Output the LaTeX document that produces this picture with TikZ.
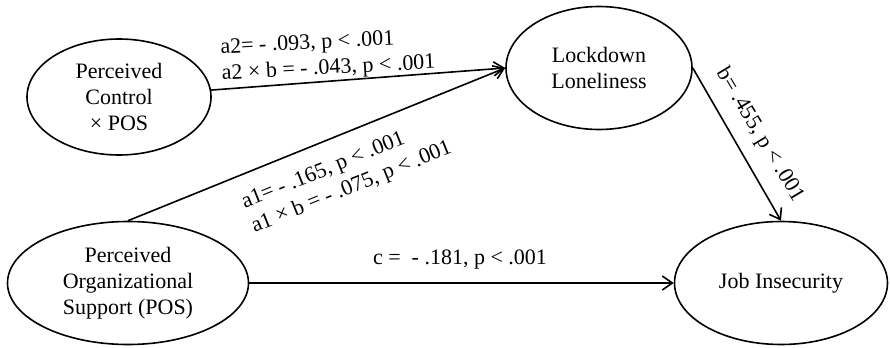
\documentclass[tikz,border=0pt]{standalone}
\usepackage{fontspec}
\setmainfont{Liberation Serif}
\usepackage{tikz}
\usetikzlibrary{shapes.geometric, arrows.meta}

\begin{document}
\begin{tikzpicture}[x=0.5pt, y=-0.5pt, line width=0.8pt,
    >={Straight Barb[length=5pt, width=7pt]},
    every node/.style={font=\fontsize{11}{13}\selectfont},
    latent/.style={draw, ellipse, inner sep=0pt, align=center},
    coef/.style={inner sep=1pt}]
    \useasboundingbox (0,0) rectangle (890,348);

    \node[latent, minimum width=92pt, minimum height=58pt] (pcp) at (119,97) {Perceived\\Control\\× POS};
    \node[latent, minimum width=93pt, minimum height=61.5pt] (ll) at (599,68) {Lockdown\\Loneliness};
    \node[latent, minimum width=120.5pt, minimum height=61.5pt] (pos) at (128,283) {Perceived\\Organizational\\Support (POS)};
    \node[latent, minimum width=106.5pt, minimum height=61.5pt] (ji) at (781,283) {Job Insecurity};

    \draw[->] (pcp) -- (ll.west);
    \draw[->] (pos.north) -- (ll.west);
    \draw[->] (ll.east) -- (ji.north);
    \draw[->] (pos.east) -- (ji.west);

    \node[coef, align=left, rotate=3] (ca2) at (328,56) {a2= - .093, p < .001\\a2 × b = - .043, p < .001};
    \node[coef, align=left, rotate=22] (ca1) at (347,176) {a1= - .165, p < .001\\a1 × b = - .075, p < .001};
    \node[coef, rotate=-59] (cb) at (760,135) {b= .455, p < .001};
    \node[coef] (cc) at (460,260) {c =~ - .181, p < .001};
\end{tikzpicture}
\end{document}
